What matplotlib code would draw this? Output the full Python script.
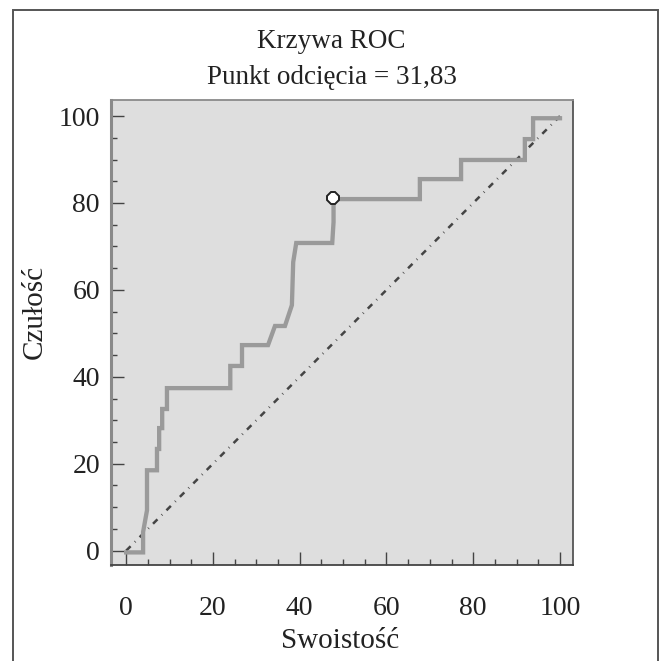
import matplotlib
matplotlib.use("Agg")
import matplotlib.pyplot as plt
from matplotlib.patches import Rectangle
from matplotlib.ticker import MultipleLocator

# ---------------------------------------------------------------- data ------
# ROC curve (x = 100 - specificity, y = sensitivity)
roc_x = [0, 3.9, 3.9, 4.8, 4.8, 7.1, 7.1, 7.6, 7.6, 8.3, 8.3, 9.4, 9.4,
         24.0, 24.0, 26.7, 26.7, 32.7, 34.3, 36.6, 38.2, 38.5, 39.2,
         47.5, 47.8, 47.8, 67.7, 67.7, 77.2, 77.2, 91.9, 91.9, 93.8, 93.8, 100]
roc_y = [-0.4, -0.4, 4.3, 9.3, 18.5, 18.5, 23.4, 23.4, 28.2, 28.2, 32.6, 32.6, 37.4,
         37.4, 42.5, 42.5, 47.3, 47.3, 51.7, 51.7, 56.5, 66.4, 70.8,
         70.8, 75.6, 80.9, 80.9, 85.5, 85.5, 89.9, 89.9, 94.7, 94.7, 99.5, 99.5]
ref_x = [0, 100]
ref_y = [0, 100]
cut_x = [47.6]
cut_y = [81.1]

title_lines = ["Krzywa ROC", "Punkt odcięcia = 31,83"]
x_label = "Swoistość"
y_label = "Czułość"

# --------------------------------------------------------------- figure -----
plt.rcParams["font.family"] = ["Liberation Serif", "DejaVu Serif"]
W, H = 663, 661
fig = plt.figure(figsize=(W / 100, H / 100), dpi=100)
fig.patch.set_facecolor("white")

# outer frame (open at the bottom, runs off the image)
fig.patches.append(Rectangle((12.5 / W, -0.05), (658 - 12.5) / W, 1.05 - 10 / H,
                             transform=fig.transFigure, fill=False,
                             edgecolor="#555555", linewidth=1.4))

ax = fig.add_axes([111 / W, 1 - 565 / H, (573 - 111) / W, (565 - 100) / H])
ax.set_facecolor("#dedede")

ax.plot(ref_x, ref_y, color="#444444", linewidth=1.8,
        linestyle=(0, (2.5, 2.4, 0.3, 2.4)))
ax.plot(roc_x, roc_y, color="#9a9a9a", linewidth=3.1, solid_joinstyle="miter")
ax.plot(cut_x, cut_y, marker="8", markersize=9, markerfacecolor="white",
        markeredgecolor="#222222", markeredgewidth=1.4, linestyle="none")

ax.set_xlim(-3.5, 103)
ax.set_ylim(-3.3, 103.7)
ax.xaxis.set_major_locator(MultipleLocator(20))
ax.xaxis.set_minor_locator(MultipleLocator(5))
ax.yaxis.set_major_locator(MultipleLocator(20))
ax.yaxis.set_minor_locator(MultipleLocator(5))
ax.tick_params(which="both", direction="in", color="#444444", width=1.0,
               labelsize=20, labelcolor="#222222")
ax.tick_params(which="major", length=9.5)
ax.tick_params(which="minor", length=4.5)
ax.tick_params(axis="x", which="major", pad=22)
ax.tick_params(axis="y", which="major", pad=8)

ax.spines["left"].set_color("#8a8a8a")
ax.spines["left"].set_linewidth(2.2)
ax.spines["top"].set_color("#8a8a8a")
ax.spines["top"].set_linewidth(1.3)
ax.spines["right"].set_color("#555555")
ax.spines["right"].set_linewidth(1.3)
ax.spines["bottom"].set_color("#444444")
ax.spines["bottom"].set_linewidth(1.3)

# titles and axis labels
fig.text(331 / W, 1 - 42 / H, title_lines[0], ha="center", va="center",
         fontsize=19.5, color="#222222")
fig.text(332 / W, 1 - 78 / H, title_lines[1], ha="center", va="center",
         fontsize=19.5, color="#222222")
fig.text(340 / W, 1 - 641 / H, x_label, ha="center", va="center",
         fontsize=21, color="#222222")
fig.text(35 / W, 1 - 312 / H, y_label, ha="center", va="center",
         rotation=90, fontsize=21, color="#222222")

fig.savefig("out.png", dpi=100)
